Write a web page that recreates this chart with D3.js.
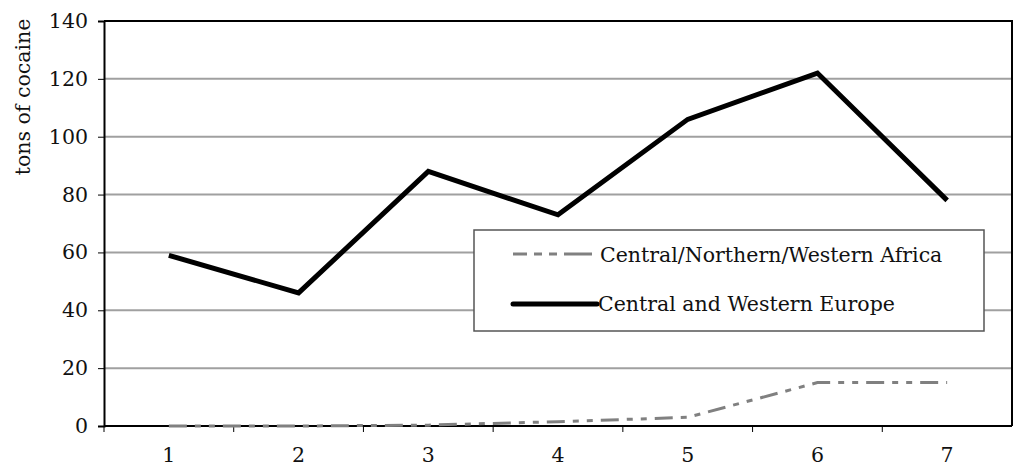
<!DOCTYPE html>
<html>
<head>
<meta charset="utf-8">
<script src="https://cdn.jsdelivr.net/npm/d3@7"></script>
<style>
  body { margin: 0; background: #fff; }
  text { font-family: "DejaVu Serif", serif; fill: #111; }
</style>
</head>
<body>
<svg id="chart" width="1013" height="469"></svg>
<script>
var categories = ["1", "2", "3", "4", "5", "6", "7"];
var africa = [0, 0, 0.3, 1.5, 3, 15, 15];
var europe = [59, 46, 88, 73, 106, 122, 78];
var yTicks = [0, 20, 40, 60, 80, 100, 120, 140];
var seriesNames = ["Central/Northern/Western Africa", "Central and Western Europe"];

(function() {

  var plotLeft = 104,
      plotRight = 1012,
      plotTop = 21,
      plotBottom = 426,
      fontSize = 20.5;

  var svg = d3.select('#chart');

  var x = d3.scaleBand()
      .domain(categories)
      .range([plotLeft, plotRight]);

  var y = d3.scaleLinear()
      .domain([0, 140])
      .range([plotBottom, plotTop]);

  // gridlines
  svg.append('g')
    .selectAll('line')
    .data(yTicks.filter(function(d) { return d > 0 && d < 140; }))
    .join('line')
      .attr('x1', plotLeft)
      .attr('x2', plotRight)
      .attr('y1', function(d) { return y(d); })
      .attr('y2', function(d) { return y(d); })
      .attr('stroke', '#a0a0a0')
      .attr('stroke-width', 2);

  // plot border top / right
  svg.append('path')
      .attr('d', 'M' + plotLeft + ',' + y(140) + 'H' + plotRight + 'V' + plotBottom)
      .attr('fill', 'none')
      .attr('stroke', '#000')
      .attr('stroke-width', 2);

  // y axis
  var yAxis = svg.append('g')
      .attr('transform', 'translate(' + plotLeft + ',0)')
      .call(d3.axisLeft(y).tickValues(yTicks).tickSize(6).tickPadding(10));
  yAxis.select('.domain').attr('stroke', '#000').attr('stroke-width', 2);
  yAxis.selectAll('.tick line').attr('stroke', '#000');
  yAxis.selectAll('.tick text')
      .attr('font-size', fontSize)
      .attr('font-family', '"DejaVu Serif", serif')
      .attr('fill', '#111');

  // x axis: ticks sit between categories
  var xAxis = svg.append('g')
      .attr('transform', 'translate(0,' + plotBottom + ')');
  xAxis.append('line')
      .attr('x1', plotLeft)
      .attr('x2', plotRight)
      .attr('stroke', '#000')
      .attr('stroke-width', 2);
  xAxis.selectAll('.tk')
    .data(categories)
    .join('line')
      .attr('class', 'tk')
      .attr('x1', function(d) { return x(d); })
      .attr('x2', function(d) { return x(d); })
      .attr('y1', 0)
      .attr('y2', 6)
      .attr('stroke', '#000');
  xAxis.selectAll('text')
    .data(categories)
    .join('text')
      .attr('x', function(d) { return x(d) + x.bandwidth() / 2; })
      .attr('y', 36)
      .attr('text-anchor', 'middle')
      .attr('font-size', fontSize)
      .text(function(d) { return d; });

  // y label
  svg.append('text')
      .attr('transform', 'translate(30,97) rotate(-90)')
      .attr('text-anchor', 'middle')
      .attr('font-size', fontSize)
      .text('tons of cocaine');

  var line = d3.line()
      .x(function(d, i) { return x(categories[i]) + x.bandwidth() / 2; })
      .y(function(d) { return y(d); });

  svg.append('path')
      .datum(africa)
      .attr('d', line)
      .attr('fill', 'none')
      .attr('stroke', '#808080')
      .attr('stroke-width', 3)
      .attr('stroke-dasharray', '18,8,6,8,6,8');

  svg.append('path')
      .datum(europe)
      .attr('d', line)
      .attr('fill', 'none')
      .attr('stroke', '#000')
      .attr('stroke-width', 5);

  // legend
  var lg = svg.append('g');
  lg.append('rect')
      .attr('x', 474)
      .attr('y', 230)
      .attr('width', 510)
      .attr('height', 101)
      .attr('fill', '#fff')
      .attr('stroke', '#555')
      .attr('stroke-width', 1.5);

  lg.append('line')
      .attr('x1', 513).attr('x2', 592)
      .attr('y1', 254).attr('y2', 254)
      .attr('stroke', '#808080')
      .attr('stroke-width', 3)
      .attr('stroke-dasharray', '14,7,8,7,8,7,30');
  lg.append('text')
      .attr('x', 600)
      .attr('y', 262)
      .attr('font-size', fontSize)
      .text(seriesNames[0]);

  lg.append('line')
      .attr('x1', 513).attr('x2', 597)
      .attr('y1', 304).attr('y2', 304)
      .attr('stroke', '#000')
      .attr('stroke-width', 5)
      .attr('stroke-linecap', 'round');
  lg.append('text')
      .attr('x', 598)
      .attr('y', 311)
      .attr('font-size', fontSize)
      .text(seriesNames[1]);

})();
</script>
</body>
</html>
